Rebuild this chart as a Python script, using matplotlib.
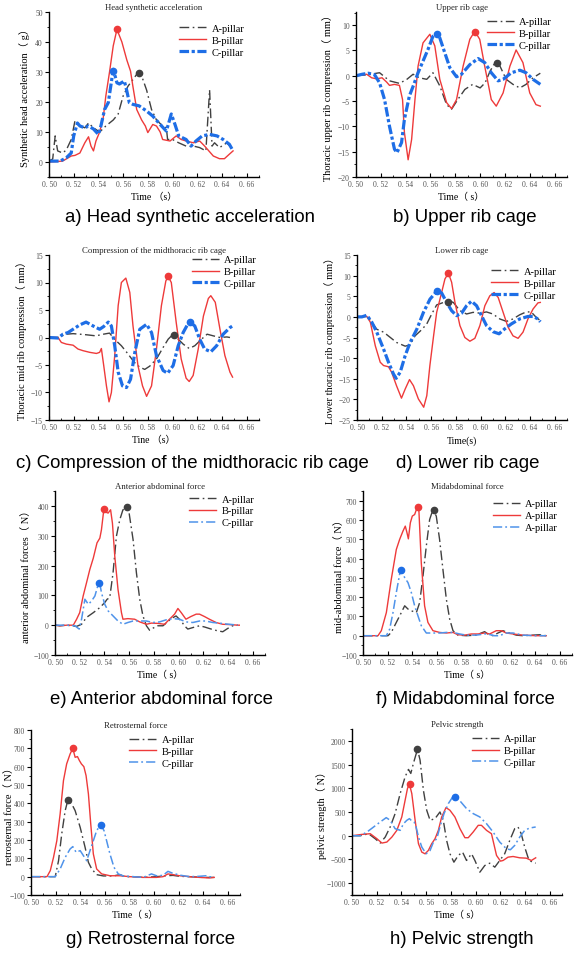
import matplotlib
matplotlib.use("Agg")
import matplotlib.pyplot as plt
from matplotlib.ticker import MultipleLocator, FuncFormatter

# ---------------- DATA ----------------
# a) Head synthetic acceleration (g)
a_tA = [0.50,0.503,0.505,0.507,0.511,0.514,0.518,0.521,0.525,0.529,0.532,0.536,0.541,0.546,0.552,0.556,0.560,0.564,0.568,0.572,0.575,0.579,0.583,0.587,0.592,0.595,0.596,0.600,0.605,0.611,0.617,0.622,0.627,0.630,0.632,0.634,0.638,0.644,0.649]
a_A  = [0.3,1,8.7,3.7,3,4,7.5,13.7,12,11.4,13,11.4,10,12,14,16,22,25.3,27.5,29.8,28.7,24,17.5,14,12,11.4,7.5,7.5,6.4,5.3,5.3,4.8,3.7,24,5.3,6.4,4.8,6.4,4.2]
a_tB = [0.50,0.511,0.518,0.521,0.525,0.529,0.532,0.534,0.536,0.538,0.541,0.544,0.546,0.549,0.552,0.555,0.559,0.563,0.566,0.568,0.571,0.575,0.578,0.580,0.584,0.587,0.590,0.592,0.598,0.603,0.607,0.611,0.617,0.622,0.626,0.633,0.638,0.642,0.646,0.649]
a_B  = [0,0.3,2,2.2,3,6.4,8.4,5.3,3.7,7,10,15,22,30,38.7,44.2,40,34,30.3,25,17.5,14,12,9.8,12.5,12,10,7.5,7,8.7,7.5,7,6.4,7,5.3,2,1.1,1.1,2.6,3.7]
a_tC = [0.50,0.509,0.514,0.518,0.520,0.523,0.525,0.529,0.532,0.536,0.540,0.542,0.545,0.548,0.550,0.552,0.555,0.557,0.561,0.563,0.565,0.568,0.573,0.579,0.584,0.590,0.595,0.599,0.602,0.605,0.611,0.615,0.619,0.624,0.630,0.636,0.641,0.646,0.649]
a_C  = [0.3,0.3,1.4,3,8.7,13,12,11.4,12,11,9.2,12,17.5,19.8,25.3,30.9,26.4,26,27,23.7,19.8,19.2,18.7,17,15.3,12.5,10.3,16,12.5,8.7,7.5,5.3,7,8.7,9.2,8.7,7.5,5.9,3.7]

# b) Upper rib cage (mm)
b_tA = [0.50,0.509,0.519,0.527,0.535,0.541,0.546,0.551,0.557,0.562,0.5675,0.573,0.577,0.582,0.5877,0.594,0.600,0.604,0.608,0.612,0.616,0.621,0.6265,0.632,0.637,0.6426,0.6485]
b_A  = [0,0.2,0.6,-1.0,-1.5,-0.7,0.3,-0.4,-0.7,0.6,-2.0,-5.7,-6.6,-4.7,-2.7,-1.7,-2.4,-1.4,0.9,2.6,1.9,-0.7,-1.7,-2.4,-1.7,-0.4,0.5]
b_tB = [0.50,0.5086,0.5126,0.5166,0.521,0.5247,0.527,0.531,0.535,0.5375,0.539,0.542,0.5448,0.5475,0.550,0.554,0.5595,0.5635,0.5675,0.573,0.577,0.581,0.5863,0.5917,0.5957,0.5997,0.6037,0.609,0.613,0.6185,0.624,0.629,0.6345,0.640,0.645,0.6485]
b_B  = [0,0.3,-0.4,-0.6,-0.4,-1.25,-1.9,-1.7,-1.9,-4.7,-11.2,-16.6,-12.6,-4.7,1.9,6.5,8.2,5.9,-0.7,-5.3,-6.5,-4.7,1.9,7.2,8.8,7.2,1.9,-4.7,-6.0,-3.4,1.9,5.1,2.6,-3.4,-5.7,-6.0]
b_tC = [0.50,0.505,0.51,0.515,0.519,0.523,0.527,0.531,0.533,0.5367,0.539,0.543,0.5466,0.550,0.554,0.558,0.562,0.5649,0.5675,0.5716,0.5756,0.581,0.585,0.5917,0.5984,0.6037,0.609,0.6145,0.6185,0.6252,0.632,0.637,0.6426,0.6485]
b_C  = [0,0.3,0.5,0.2,-1.4,-4.7,-10,-14.5,-15.2,-13.2,-8.6,-4.0,-1.7,0.6,2.9,5.2,7.8,8.3,7.5,4.5,1.6,-0.2,0.3,2.2,3.4,2.6,0.6,-1.0,-0.7,0.6,1.1,0.6,-0.7,-1.7]

# c) Compression of the midthoracic rib cage (mm)
c_tA = [0.50,0.507,0.514,0.5195,0.525,0.530,0.538,0.544,0.549,0.553,0.5586,0.564,0.569,0.5735,0.5775,0.5816,0.587,0.5924,0.5965,0.6005,0.6046,0.6086,0.6135,0.618,0.6235,0.628,0.633,0.6384,0.644,0.6465]
c_A  = [0,0,0.6,0.7,0.6,0.5,0.3,0.6,0.8,-0.3,-1.5,-3.0,-4.5,-5.4,-5.8,-5.2,-3.9,-1.8,-0.3,0.6,-0.3,-1.2,-2.0,-1.5,-0.3,0.6,0.3,0,0.1,0]
c_tB = [0.50,0.5073,0.51,0.514,0.5195,0.5235,0.5276,0.533,0.5384,0.541,0.5424,0.5443,0.5465,0.5486,0.5505,0.5532,0.556,0.5586,0.5622,0.5654,0.568,0.572,0.5757,0.579,0.583,0.587,0.591,0.5946,0.5965,0.599,0.603,0.607,0.611,0.6135,0.6167,0.6208,0.625,0.629,0.631,0.6346,0.6384,0.6424,0.6465,0.6486]
c_B  = [0,0,-0.9,-1.2,-1.4,-2.1,-2.4,-2.7,-2.9,-2.7,-2.0,-5.1,-8.8,-11.7,-10,-3.3,5.8,10,10.8,8.2,2.1,-5.1,-8.8,-10.7,-8.8,-2.1,5.8,10.3,11.1,10,2.7,-3.9,-7.4,-8.0,-6.9,-2.1,3.9,7.1,7.6,6.4,1.5,-3.3,-6.3,-7.2]
c_tC = [0.50,0.5073,0.5113,0.5154,0.5195,0.525,0.530,0.5357,0.541,0.5443,0.548,0.5505,0.5532,0.556,0.5595,0.5627,0.566,0.5695,0.5735,0.579,0.583,0.587,0.5924,0.596,0.6005,0.6046,0.6086,0.6135,0.618,0.622,0.626,0.631,0.6357,0.641,0.6465,0.6486]
c_C  = [0,-0.1,0.6,0.9,1.5,2.3,2.8,2.1,1.5,2.0,2.8,2.1,-1.5,-6.3,-8.8,-9.1,-7.6,-2.7,1.5,2.4,0.9,-3.3,-6.0,-6.5,-5.1,-1.5,0.9,2.9,2.1,-0.3,-2.1,-2.6,-1.5,0.6,1.8,2.1]

# d) Lower rib cage (mm)
d_tA = [0.50,0.508,0.512,0.516,0.5215,0.527,0.532,0.539,0.543,0.547,0.5524,0.5565,0.5605,0.5645,0.570,0.574,0.578,0.5833,0.5887,0.594,0.5995,0.6048,0.610,0.6156,0.621,0.6263,0.6317,0.637,0.641,0.645,0.6484]
d_A  = [0,0.1,-1.3,-3.0,-3.7,-5.0,-6.2,-7.1,-6.8,-4.6,-3.1,-1.7,0.7,2.9,3.5,3.9,3.5,1.5,0.7,1.1,0.9,1.2,0.7,-0.5,-1.1,-0.5,0.5,1.2,1.2,-0.1,-0.9]
d_tB = [0.50,0.504,0.508,0.5108,0.5148,0.5188,0.5215,0.5255,0.528,0.532,0.536,0.539,0.5425,0.5457,0.5497,0.554,0.5565,0.559,0.562,0.5645,0.5685,0.5712,0.574,0.5766,0.5793,0.5833,0.5873,0.5914,0.5954,0.5995,0.6035,0.6075,0.611,0.6143,0.6183,0.6223,0.6263,0.6304,0.6344,0.6384,0.6425,0.6465,0.6484]
d_B  = [0,0.1,0.1,-1.3,-7.0,-11,-11.8,-12.1,-13.4,-16.7,-19.7,-17.5,-15.2,-16.7,-19.9,-21.9,-19.1,-11.8,-4.6,1.1,5.9,9.2,10.6,8.4,3.5,-2.1,-5.0,-5.9,-5.2,-2.1,2.7,5.1,5.9,4.7,1.1,-2.5,-4.6,-5.2,-3.7,-0.5,1.9,3.4,3.5]
d_tC = [0.50,0.504,0.508,0.512,0.516,0.5215,0.5255,0.5296,0.5317,0.535,0.539,0.543,0.5484,0.5538,0.5591,0.5645,0.5685,0.5726,0.5766,0.5806,0.5847,0.5887,0.5927,0.5968,0.6008,0.6048,0.6102,0.615,0.6196,0.625,0.6317,0.6384,0.6425,0.6465,0.6484]
d_C  = [0,0,0.4,-1.3,-3.7,-7.8,-11,-13.9,-14.9,-13.4,-9.4,-6.2,-3.0,1.1,4.3,6.2,5.8,3.5,1.5,0.3,0.9,2.7,3.8,2.7,0.3,-2.1,-3.6,-4.1,-2.9,-1.7,-0.5,0.1,0.1,-0.5,-1.2]

# e) Anterior abdominal force (N)
e_tA = [0.50,0.504,0.5094,0.5175,0.5215,0.5255,0.531,0.5363,0.5403,0.5422,0.5443,0.547,0.5497,0.5524,0.555,0.5578,0.560,0.5632,0.5659,0.5686,0.5712,0.574,0.5766,0.5793,0.5833,0.5874,0.590,0.594,0.598,0.6022,0.6048,0.6075,0.6116,0.617,0.621,0.6264,0.6317,0.6358,0.6398,0.6438,0.648]
e_A  = [0,-2,0,-4,3,26,42,59,76,87,92,176,298,353,387,392,376,287,176,87,31,-2,-17,-10,-2,-2,7,22,31,14,-2,-13,-8,-2,-6,-13,-19,-22,-11,-2,0]
e_tB = [0.50,0.504,0.5094,0.5148,0.5175,0.520,0.5228,0.5255,0.5282,0.531,0.534,0.5363,0.5376,0.5395,0.5417,0.543,0.545,0.5465,0.5484,0.551,0.5538,0.555,0.559,0.5645,0.5686,0.574,0.578,0.5833,0.5887,0.5927,0.5968,0.5995,0.6022,0.606,0.610,0.6143,0.617,0.621,0.625,0.6304,0.6358,0.6412,0.648,0.6492]
e_B  = [0,-2,0,0,20,42,98,142,187,225,276,292,320,387,378,376,387,342,231,120,42,20,22,20,11,3,7,6,3,20,37,56,42,20,29,37,37,29,20,9,3,2,0,0]
e_tC = [0.50,0.5094,0.5161,0.5196,0.5215,0.5242,0.527,0.5296,0.5323,0.535,0.5363,0.5376,0.5403,0.543,0.547,0.551,0.555,0.559,0.5632,0.5686,0.574,0.5793,0.5847,0.590,0.5954,0.6008,0.606,0.6116,0.617,0.622,0.6277,0.633,0.6384,0.6438,0.648]
e_C  = [0,0,-2,-13,20,87,70,81,98,137,140,109,70,48,31,14,3,9,14,14,14,9,11,18,22,20,11,9,14,14,9,7,4,2,0]

# f) Midabdominal force (N)
f_tA = [0.50,0.5203,0.523,0.5271,0.5312,0.5339,0.5366,0.5393,0.5434,0.5461,0.5488,0.5515,0.5542,0.5569,0.5596,0.5623,0.565,0.5678,0.5705,0.5732,0.5772,0.584,0.5921,0.5962,0.5989,0.6016,0.6057,0.6098,0.6138,0.6192,0.6247,0.630,0.638,0.6436,0.649]
f_A  = [0,0,17,69,120,155,138,129,120,172,310,465,602,654,620,499,344,189,86,26,3,0,3,14,21,9,0,14,26,14,3,0,3,5,0]
f_tB = [0.50,0.5122,0.5149,0.519,0.523,0.5271,0.5298,0.5325,0.5344,0.5358,0.5369,0.5385,0.5401,0.542,0.5439,0.5455,0.5474,0.5501,0.5528,0.5569,0.5623,0.5678,0.5732,0.5772,0.5827,0.5881,0.5935,0.5989,0.603,0.6084,0.6125,0.6165,0.622,0.630,0.641,0.649]
f_B  = [0,0,26,120,292,447,499,542,568,533,502,585,620,628,662,645,378,155,69,26,17,14,17,5,3,9,9,14,9,26,26,14,9,3,0,0]
f_tC = [0.50,0.519,0.5217,0.5244,0.5271,0.5298,0.5312,0.5339,0.5366,0.5393,0.542,0.5447,0.5474,0.5515,0.5569,0.5623,0.5678,0.5732,0.5786,0.584,0.5921,0.6003,0.607,0.611,0.6165,0.622,0.630,0.641,0.649]
f_C  = [0,0,34,120,224,318,340,301,275,224,155,103,52,14,14,14,17,17,9,3,3,10,0,0,14,14,3,0,0]

# g) Retrosternal force (N)
g_tA = [0.50,0.5197,0.5224,0.525,0.5278,0.530,0.5332,0.5359,0.540,0.544,0.5467,0.5494,0.5534,0.5588,0.5669,0.5723,0.5764,0.5831,0.5912,0.602,0.6101,0.6155,0.6209,0.629,0.6398,0.649]
g_A  = [0,0,87,233,360,418,396,360,269,160,78,42,11,4,4,11,0,0,-4,0,5,7,2,0,-4,-4]
g_tB = [0.50,0.513,0.5157,0.5183,0.521,0.5237,0.5264,0.529,0.5318,0.534,0.5359,0.5378,0.5394,0.541,0.543,0.5448,0.5467,0.5486,0.5507,0.5534,0.5575,0.5642,0.5723,0.5804,0.5912,0.602,0.6074,0.6114,0.6155,0.6209,0.629,0.637,0.645,0.649]
g_B  = [0,0,33,105,196,342,524,615,669,700,651,655,633,615,600,551,451,287,124,42,15,5,5,0,-4,-4,0,15,11,5,0,-4,-7,-4]
g_tC = [0.50,0.5197,0.5237,0.5278,0.5318,0.534,0.5367,0.540,0.5426,0.5453,0.548,0.5507,0.5534,0.5567,0.5594,0.5615,0.5642,0.5675,0.571,0.575,0.5831,0.5912,0.598,0.602,0.6074,0.6114,0.6155,0.6222,0.629,0.637,0.6425,0.645,0.649]
g_C  = [0,0,42,105,151,164,133,142,115,87,142,196,251,284,251,196,124,51,15,4,0,-4,15,5,7,29,18,7,0,2,5,0,-4]

# h) Pelvic strength (N)
h_tA = [0.50,0.5067,0.5134,0.5188,0.5228,0.5269,0.5309,0.5349,0.539,0.543,0.5457,0.5476,0.5497,0.553,0.5551,0.5578,0.5605,0.5632,0.5672,0.5712,0.5739,0.5766,0.5793,0.5825,0.586,0.5895,0.5927,0.5968,0.5995,0.6035,0.6075,0.6115,0.6156,0.6196,0.6236,0.6277,0.6317,0.6344,0.637,0.6398,0.6433,0.6465,0.6487]
h_A  = [0,0,42,-64,-155,-28,184,466,889,1242,1398,1313,1525,1821,1595,960,536,325,360,501,325,-99,-381,-558,-416,-346,-522,-381,-522,-769,-628,-579,-663,-522,-381,-99,148,184,42,-240,-522,-558,-579]
h_tB = [0.50,0.5081,0.5148,0.5202,0.5242,0.5282,0.5323,0.5363,0.5403,0.543,0.5449,0.5465,0.5484,0.5511,0.5538,0.5565,0.5591,0.5618,0.5645,0.5672,0.5699,0.5726,0.5761,0.5793,0.5833,0.5874,0.5914,0.5941,0.5981,0.6022,0.6048,0.6089,0.6129,0.617,0.6202,0.6223,0.6263,0.6304,0.6358,0.6411,0.6452,0.6487]
h_B  = [0,28,42,-64,-155,-134,-28,113,395,748,995,1087,889,325,-169,-346,-381,-311,-169,-64,113,395,593,536,395,148,-42,-42,78,219,219,113,42,-416,-536,-522,-452,-438,-466,-473,-522,-466]
h_tC = [0.50,0.5067,0.5121,0.5175,0.5228,0.5277,0.5309,0.5349,0.539,0.5417,0.5444,0.5465,0.5484,0.5503,0.5519,0.5538,0.5565,0.560,0.5632,0.5659,0.5686,0.5712,0.5745,0.578,0.5812,0.5833,0.5874,0.5927,0.5981,0.6035,0.6089,0.6142,0.6196,0.625,0.6282,0.6317,0.6358,0.6398,0.6438,0.6487]
h_C  = [0,0,78,184,289,381,325,148,113,254,325,360,311,289,184,-28,-240,-381,-311,-134,-64,184,466,678,805,819,734,572,466,395,254,78,-134,-275,-296,-205,-28,113,162,184]

# peak markers (time, value) per series
a_pk = [(0.573, 29.8), (0.555, 44.2), (0.552, 30.5)]
b_pk = [(0.614, 2.6), (0.5957, 8.7), (0.5655, 8.2)]
c_pk = [(0.601, 0.5), (0.5965, 11.1), (0.6138, 2.9)]
d_pk = [(0.574, 3.7), (0.574, 10.6), (0.565, 6.2)]
e_pk = [(0.558, 395), (0.5395, 388), (0.536, 143)]
f_pk = [(0.5575, 650), (0.5445, 665), (0.531, 340)]
g_pk = [(0.530, 418), (0.534, 700), (0.5567, 284)]
h_pk = [(0.553, 1821), (0.547, 1087), (0.5833, 819)]

legend_names = ["A-pillar", "B-pillar", "C-pillar"]
legend_names_f = ["A-pillar", "A-pillar", "A-pillar"]

titles = ["Head synthetic acceleration", "Upper rib cage",
          "Compression of the midthoracic rib cage", "Lower rib cage",
          "Anterior abdominal force", "Midabdominal force",
          "Retrosternal force", "Pelvic strength"]
ylabels = ["Synthetic head acceleration\uff08 g\uff09", "Thoracic upper rib compression\uff08 mm\uff09",
           "Thoracic mid rib compression\uff08 mm\uff09", "Lower thoracic rib compression\uff08 mm\uff09",
           "anterior abdominal forces\uff08 N\uff09", "mid-abdominal force\uff08 N\uff09",
           "retrosternal force\uff08 N\uff09", "pelvic strength\uff08 N\uff09"]
xlabels = ["Time \uff08s\uff09", "Time\uff08 s\uff09", "Tine \uff08s\uff09", "Time(s)",
           "Time\uff08 s\uff09", "Time\uff08 s\uff09", "Time\uff08 s\uff09", "Time\uff08 s\uff09"]
captions = ["a) Head synthetic acceleration", "b) Upper rib cage",
            "c) Compression of the midthoracic rib cage", "d) Lower rib cage",
            "e) Anterior abdominal force", "f) Midabdominal force",
            "g) Retrosternal force", "h) Pelvic strength"]

# ---------------- FIGURE ----------------
W, H = 578, 954
fig = plt.figure(figsize=(W/100, H/100), dpi=100)
SERIF = ['Liberation Serif', 'Noto Sans CJK SC']

colA = '#404040'
colB = '#ee3a3a'
colC = '#1e6ee6'
colC2 = '#4f93ea'

def add_ax(l, t, r, b):
    return fig.add_axes([l/W, 1-b/H, (r-l)/W, (b-t)/H])

# pixel boxes (left, top, right, bottom) and limits; ylx = y-label centre x pixel
panels = [
    dict(box=(49, 13, 259, 178), ylim=(-5, 50), ystep=10, yminor=5,
         data=[(a_tA, a_A), (a_tB, a_B), (a_tC, a_C)], pk=a_pk, heavyC=True,
         leg=(0.62, 0.93), cap=(190, 218), ylx=25),
    dict(box=(356, 13, 567, 178), ylim=(-20, 12.6), ystep=5, yminor=2.5,
         data=[(b_tA, b_A), (b_tB, b_B), (b_tC, b_C)], pk=b_pk, heavyC=True,
         leg=(0.62, 0.97), cap=(465, 218), ylx=328),
    dict(box=(49, 256, 259, 421), ylim=(-15, 15), ystep=5, yminor=2.5,
         data=[(c_tA, c_A), (c_tB, c_B), (c_tC, c_C)], pk=c_pk, heavyC=True,
         leg=(0.68, 1.0), cap=(192, 463), ylx=22),
    dict(box=(357, 256, 567, 421), ylim=(-25, 15), ystep=5, yminor=2.5,
         data=[(d_tA, d_A), (d_tB, d_B), (d_tC, d_C)], pk=d_pk, heavyC=True,
         leg=(0.64, 0.93), cap=(468, 463), ylx=330),
    dict(box=(55, 492, 265, 656), ylim=(-100, 450), ystep=100, yminor=50,
         data=[(e_tA, e_A), (e_tB, e_B), (e_tC, e_C)], pk=e_pk, heavyC=False,
         leg=(0.64, 0.98), cap=(162, 700), ylx=26),
    dict(box=(363, 492, 572, 656), ylim=(-100, 750), ystep=100, yminor=50,
         data=[(f_tA, f_A), (f_tB, f_B), (f_tC, f_C)], pk=f_pk, heavyC=False,
         leg=(0.62, 0.95), cap=(465, 700), names=legend_names_f, ylx=339),
    dict(box=(31, 731, 240, 896), ylim=(-100, 800), ystep=100, yminor=50,
         data=[(g_tA, g_A), (g_tB, g_B), (g_tC, g_C)], pk=g_pk, heavyC=False,
         leg=(0.47, 0.97), cap=(151, 940), ylx=9),
    dict(box=(352, 730, 562, 896), ylim=(-1250, 2250), ystep=500, yminor=250,
         data=[(h_tA, h_A), (h_tB, h_B), (h_tC, h_C)], pk=h_pk, heavyC=False,
         leg=(0.57, 0.97), cap=(462, 940), ylx=322),
]

xfmt = FuncFormatter(lambda v, p: ("%.2f" % v).replace(".", ". "))
yfmt = FuncFormatter(lambda v, p: ("%g" % v).replace("-", "\u2212"))

for i, P in enumerate(panels):
    ax = add_ax(*P['box'])
    (tA, yA), (tB, yB), (tC, yC) = P['data']
    names = P.get('names', legend_names)
    lA, = ax.plot(tA, yA, color=colA, lw=1.0, ls=(0, (7, 2.5, 1.2, 2.5)), label=names[0])
    lB, = ax.plot(tB, yB, color=colB, lw=1.0, ls='-', label=names[1])
    if P['heavyC']:
        lC, = ax.plot(tC, yC, color=colC, lw=2.3, ls=(0, (3, 0.8, 1, 0.8)), label=names[2])
    else:
        lC, = ax.plot(tC, yC, color=colC2, lw=1.1, ls=(0, (6, 2, 1.2, 2)), label=names[2])
    for (px, py), c in zip(P['pk'], [colA, colB, colC]):
        ax.plot([px], [py], 'o', color=c, ms=4.5, zorder=5)

    ax.set_xlim(0.50, 0.67)
    ax.set_ylim(*P['ylim'])
    ax.xaxis.set_major_locator(MultipleLocator(0.02))
    ax.xaxis.set_minor_locator(MultipleLocator(0.01))
    ax.yaxis.set_major_locator(MultipleLocator(P['ystep']))
    ax.yaxis.set_minor_locator(MultipleLocator(P['yminor']))
    ax.xaxis.set_major_formatter(xfmt)
    ax.yaxis.set_major_formatter(yfmt)
    for s in ['top', 'right']:
        ax.spines[s].set_visible(False)
    for s in ['left', 'bottom']:
        ax.spines[s].set_linewidth(1.0)
    ax.tick_params(axis='x', which='major', direction='in', length=3, width=0.8,
                   labelsize=5.5, labelcolor='#555555', pad=2)
    ax.tick_params(axis='x', which='minor', direction='in', length=1.5, width=0.6)
    ax.tick_params(axis='y', which='major', direction='out', length=3, width=0.8,
                   labelsize=5.5, labelcolor='#555555', pad=1.5)
    ax.tick_params(axis='y', which='minor', direction='out', length=1.5, width=0.6)
    for lab in ax.get_xticklabels() + ax.get_yticklabels():
        lab.set_fontfamily(SERIF)
    ax.patch.set_alpha(0)

    ax.set_title(titles[i], fontsize=6.3, family=SERIF, pad=2, color='#222222')
    ax.set_ylabel(ylabels[i], fontsize=7.5, family=SERIF)
    l, t, r, b = P['box']
    # label anchor is its right edge (rotated bottom): centre + ~5 px
    ax.yaxis.set_label_coords((P['ylx'] + 5 - l) / (r - l), 0.5)
    ax.set_xlabel(xlabels[i], fontsize=7, family=SERIF, labelpad=3)

    ax.legend(handles=[lA, lB, lC], loc='upper left', bbox_to_anchor=P['leg'],
              frameon=False, prop={'family': SERIF, 'size': 7.5},
              handlelength=2.6, handletextpad=0.5, labelspacing=0.25,
              borderaxespad=0, borderpad=0)

    cx, cy = P['cap']
    fig.text(cx/W, 1-cy/H, captions[i], ha='center', va='center',
             fontsize=13.4, family=['Liberation Sans', 'DejaVu Sans'])

fig.savefig('out.png', dpi=100)
